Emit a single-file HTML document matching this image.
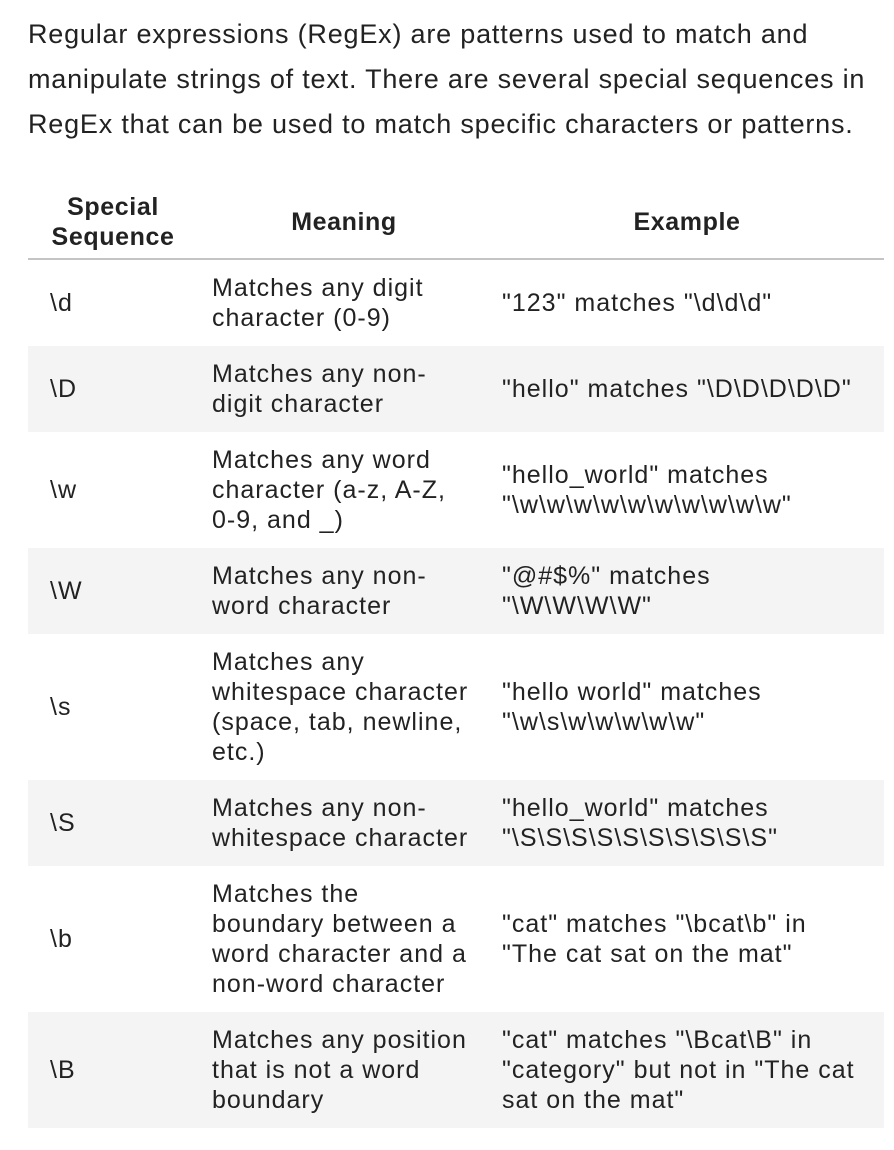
<!DOCTYPE html>
<html><head><meta charset="utf-8"><style>
body{margin:0;width:894px;height:1150px;background:#fff;font-family:"Liberation Sans",sans-serif;color:#222;position:relative;overflow:hidden}
.p{position:absolute;left:28px;top:12px;font-size:27px;letter-spacing:0.8px;line-height:45px;width:870px;white-space:nowrap}
.row{position:absolute;left:28px;width:856px;}
.sh{background:#f4f4f4}
.c{position:absolute;top:0;bottom:0;display:flex;align-items:center;font-size:25px;letter-spacing:1px;line-height:30px;white-space:nowrap}
.c1{left:22px}.c2{left:184px}.c3{left:474px}
.h{font-weight:bold;justify-content:center;text-align:center;letter-spacing:0.6px}
</style></head><body>
<div class="p">Regular expressions (RegEx) are patterns used to match and<br>manipulate strings of text. There are several special sequences in<br>RegEx that can be used to match specific characters or patterns.</div>
<div class="row" style="top:185px;height:73px;border-bottom:2px solid #c4c4c4">
<div class="c h" style="left:0;width:170px">Special<br>Sequence</div>
<div class="c h" style="left:216px;width:200px">Meaning</div>
<div class="c h" style="left:559px;width:200px">Example</div>
</div>
<div class="row" style="top:260px;height:86px"><div class="c c1">\d</div><div class="c c2">Matches any digit<br>character (0-9)</div><div class="c c3">"123" matches "\d\d\d"</div></div>
<div class="row sh" style="top:346px;height:86px"><div class="c c1">\D</div><div class="c c2">Matches any non-<br>digit character</div><div class="c c3">"hello" matches "\D\D\D\D\D"</div></div>
<div class="row" style="top:432px;height:116px"><div class="c c1">\w</div><div class="c c2">Matches any word<br>character (a-z, A-Z,<br>0-9, and _)</div><div class="c c3">"hello_world" matches<br>"\w\w\w\w\w\w\w\w\w\w"</div></div>
<div class="row sh" style="top:548px;height:86px"><div class="c c1">\W</div><div class="c c2">Matches any non-<br>word character</div><div class="c c3">"@#$%" matches<br>"\W\W\W\W"</div></div>
<div class="row" style="top:634px;height:146px"><div class="c c1">\s</div><div class="c c2">Matches any<br>whitespace character<br>(space, tab, newline,<br>etc.)</div><div class="c c3">"hello world" matches<br>"\w\s\w\w\w\w\w"</div></div>
<div class="row sh" style="top:780px;height:86px"><div class="c c1">\S</div><div class="c c2">Matches any non-<br>whitespace character</div><div class="c c3">"hello_world" matches<br>"\S\S\S\S\S\S\S\S\S\S"</div></div>
<div class="row" style="top:866px;height:146px"><div class="c c1">\b</div><div class="c c2">Matches the<br>boundary between a<br>word character and a<br>non-word character</div><div class="c c3">"cat" matches "\bcat\b" in<br>"The cat sat on the mat"</div></div>
<div class="row sh" style="top:1012px;height:116px"><div class="c c1">\B</div><div class="c c2">Matches any position<br>that is not a word<br>boundary</div><div class="c c3">"cat" matches "\Bcat\B" in<br>"category" but not in "The cat<br>sat on the mat"</div></div>
</body></html>
